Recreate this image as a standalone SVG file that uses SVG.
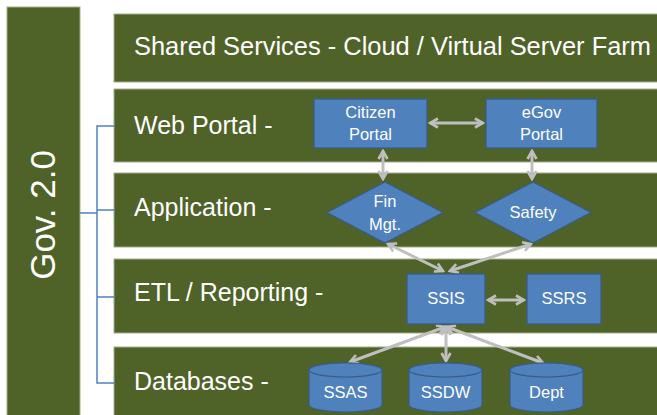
<svg xmlns="http://www.w3.org/2000/svg" width="657" height="415" viewBox="0 0 657 415">
<style>
.band{fill:#4F6228;stroke:#A3AD8C;stroke-width:1}
.lbl{font-family:"Liberation Sans",Arial,sans-serif;font-size:25px;fill:#FFFFFF}
.node{fill:#4F81BD;stroke:#385D8A;stroke-width:1.2}
.nt{font-family:"Liberation Sans",Arial,sans-serif;font-size:16.5px;fill:#FFFFFF;text-anchor:middle}
.arr{fill:none;stroke:#BFBFBF;stroke-width:3;marker-start:url(#ah);marker-end:url(#ah)}
.br{fill:none;stroke:#4F81BD;stroke-width:1.5}
</style>
<defs>
<marker id="ah" viewBox="0 0 12 12" refX="10" refY="6" markerWidth="12" markerHeight="12" markerUnits="userSpaceOnUse" orient="auto-start-reverse">
<path d="M2,1.5 L10,6 L2,10.5" fill="none" stroke="#BFBFBF" stroke-width="2.6" stroke-linejoin="miter"/>
</marker>
</defs>
<rect width="657" height="415" fill="#FFFFFF"/>
<g id="gov">
<rect class="band" x="7" y="7" width="73" height="420"/>
<text transform="translate(55,215) rotate(-90)" text-anchor="middle" font-family="'Liberation Sans',Arial,sans-serif" font-size="35" fill="#FFFFFF">Gov. 2.0</text>
</g>
<g id="band-shared">
<rect class="band" x="114" y="14" width="560" height="68"/>
<text class="lbl" x="134" y="55" textLength="517" lengthAdjust="spacingAndGlyphs">Shared Services - Cloud / Virtual Server Farm</text>
</g>
<g id="band-web">
<rect class="band" x="114" y="89" width="560" height="73"/>
<text class="lbl" x="134" y="134">Web Portal -</text>
</g>
<g id="band-app">
<rect class="band" x="114" y="173" width="560" height="74"/>
<text class="lbl" x="134" y="216">Application -</text>
</g>
<g id="band-etl">
<rect class="band" x="114" y="259" width="560" height="74"/>
<text class="lbl" x="134" y="301">ETL / Reporting -</text>
</g>
<g id="band-db">
<rect class="band" x="114" y="347" width="560" height="80"/>
<text class="lbl" x="134" y="390">Databases -</text>
</g>
<g id="connectors">
<path class="br" d="M114,126 H97 V383 H114 M97,210 H114 M97,297 H114 M80,213 H97"/>
<line class="arr" x1="430" y1="123" x2="483" y2="123"/>
<line class="arr" x1="383" y1="151" x2="383" y2="179"/>
<line class="arr" x1="532" y1="151" x2="532" y2="179"/>
<line class="arr" x1="443" y1="271" x2="388" y2="244"/>
<line class="arr" x1="450" y1="271" x2="531" y2="244"/>
<line class="arr" x1="488" y1="300" x2="524" y2="300"/>
<line class="arr" x1="445" y1="327" x2="350" y2="362"/>
<line class="arr" x1="446" y1="327" x2="446" y2="361"/>
<line class="arr" x1="447" y1="327" x2="543" y2="363"/>
</g>
<g id="citizen-portal">
<rect class="node" x="314" y="99" width="113" height="49"/>
<text class="nt" x="370.5" y="118">Citizen</text>
<text class="nt" x="370.5" y="140">Portal</text>
</g>
<g id="egov-portal">
<rect class="node" x="486" y="99" width="111" height="49"/>
<text class="nt" x="541.5" y="118">eGov</text>
<text class="nt" x="541.5" y="140">Portal</text>
</g>
<g id="fin-mgt">
<polygon class="node" points="385,182 443,212.5 385,243 327,212.5"/>
<text class="nt" x="385" y="207">Fin</text>
<text class="nt" x="385" y="230">Mgt.</text>
</g>
<g id="safety">
<polygon class="node" points="533,182 591,212.5 533,243 475,212.5"/>
<text class="nt" x="533" y="218">Safety</text>
</g>
<g id="ssis">
<rect class="node" x="407" y="274" width="78" height="50"/>
<text class="nt" x="446" y="304">SSIS</text>
</g>
<g id="ssrs">
<rect class="node" x="527" y="274" width="74" height="50"/>
<text class="nt" x="564" y="304">SSRS</text>
</g>
<g id="ssas">
<path class="node" d="M309,370 A36.5,7 0 0 1 382,370 V405 A36.5,7 0 0 1 309,405 Z"/>
<ellipse class="node" cx="345.5" cy="370" rx="36.5" ry="7"/>
<text class="nt" x="345.5" y="398">SSAS</text>
</g>
<g id="ssdw">
<path class="node" d="M409,370 A36.5,7 0 0 1 482,370 V405 A36.5,7 0 0 1 409,405 Z"/>
<ellipse class="node" cx="445.5" cy="370" rx="36.5" ry="7"/>
<text class="nt" x="445.5" y="398">SSDW</text>
</g>
<g id="dept">
<path class="node" d="M510,370 A36.5,7 0 0 1 583,370 V405 A36.5,7 0 0 1 510,405 Z"/>
<ellipse class="node" cx="546.5" cy="370" rx="36.5" ry="7"/>
<text class="nt" x="546.5" y="398">Dept</text>
</g>
</svg>
